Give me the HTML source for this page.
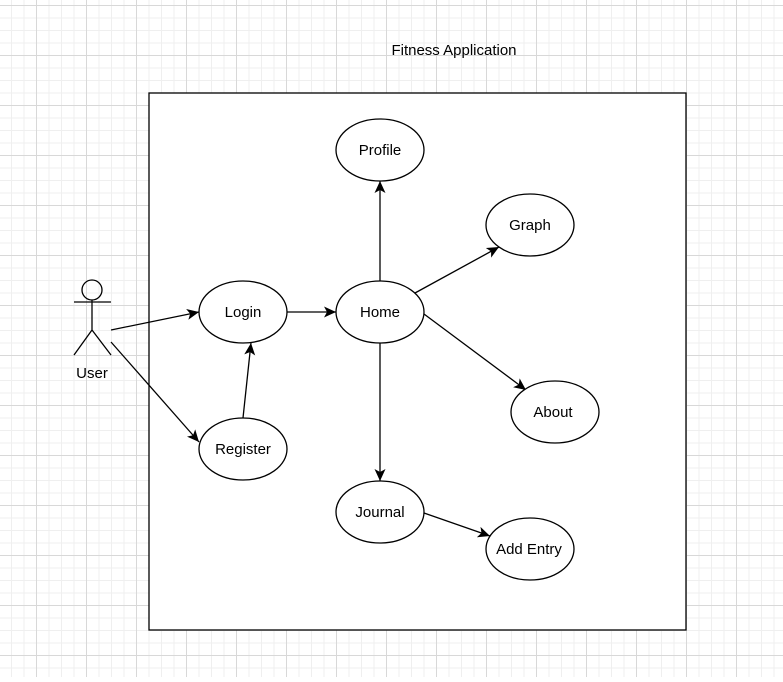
<!DOCTYPE html>
<html><head><style>
body{margin:0;width:783px;height:677px;overflow:hidden;background:#fff}
</style></head><body>
<svg width="783" height="677" xmlns="http://www.w3.org/2000/svg" font-family="Liberation Sans, sans-serif" font-size="15">
<defs>
<pattern id="minor" x="36" y="5" width="50" height="50" patternUnits="userSpaceOnUse">
<path d="M0 13H50M0 25.5H50M0 38H50M13 0V50M25.5 0V50M38 0V50" stroke="#efefef" stroke-width="1" fill="none"/>
<path d="M0 0.5H50M0.5 0V50" stroke="#d8d8d8" stroke-width="1" fill="none"/>
</pattern>
<marker id="a" markerWidth="14" markerHeight="12" refX="12" refY="6" orient="auto" markerUnits="userSpaceOnUse">
<path d="M0 0.5L12 6L0 11.5L3 6Z" fill="#000"/>
</marker>
</defs>
<rect width="783" height="677" fill="url(#minor)"/>
<rect x="149" y="93" width="537" height="537" fill="#fff" stroke="#000" stroke-width="1.3"/>
<text x="454" y="55" text-anchor="middle">Fitness Application</text>
<g stroke="#000" stroke-width="1.3" fill="none">
<circle cx="92" cy="290" r="10"/>
<path d="M92 300V330M74 302H111M92 330L74 355M92 330L111 355"/>
<line x1="111" y1="330" x2="199" y2="312" marker-end="url(#a)"/>
<line x1="111" y1="342" x2="199" y2="442" marker-end="url(#a)"/>
<line x1="243" y1="418" x2="251" y2="343" marker-end="url(#a)"/>
<line x1="287" y1="312" x2="336" y2="312" marker-end="url(#a)"/>
<line x1="380" y1="281" x2="380" y2="181" marker-end="url(#a)"/>
<line x1="415" y1="293" x2="499" y2="247" marker-end="url(#a)"/>
<line x1="424" y1="314" x2="526" y2="390" marker-end="url(#a)"/>
<line x1="380" y1="343" x2="380" y2="481" marker-end="url(#a)"/>
<line x1="424" y1="513" x2="490" y2="536" marker-end="url(#a)"/>
</g>
<g stroke="#000" stroke-width="1.3" fill="#fff">
<ellipse cx="380" cy="150" rx="44" ry="31"/>
<ellipse cx="530" cy="225" rx="44" ry="31"/>
<ellipse cx="243" cy="312" rx="44" ry="31"/>
<ellipse cx="380" cy="312" rx="44" ry="31"/>
<ellipse cx="555" cy="412" rx="44" ry="31"/>
<ellipse cx="243" cy="449" rx="44" ry="31"/>
<ellipse cx="380" cy="512" rx="44" ry="31"/>
<ellipse cx="530" cy="549" rx="44" ry="31"/>
</g>
<g text-anchor="middle" fill="#000">
<text x="380" y="155">Profile</text>
<text x="530" y="230">Graph</text>
<text x="243" y="317">Login</text>
<text x="380" y="317">Home</text>
<text x="553" y="417">About</text>
<text x="243" y="454">Register</text>
<text x="380" y="517">Journal</text>
<text x="529" y="554">Add Entry</text>
<text x="92" y="378">User</text>
</g>
</svg>
</body></html>
